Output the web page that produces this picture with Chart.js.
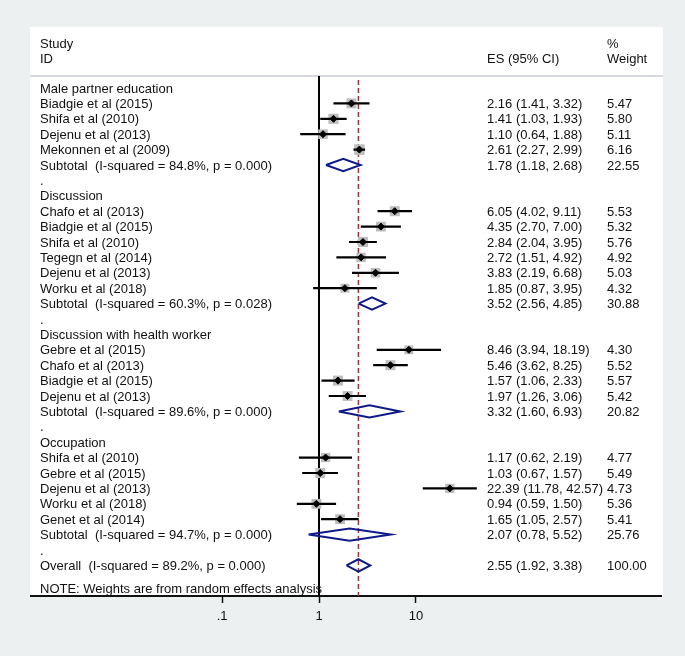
<!DOCTYPE html>
<html><head><meta charset="utf-8">
<script src="https://cdn.jsdelivr.net/npm/chart.js@4.4.1/dist/chart.umd.min.js"></script>
<style>html,body{margin:0;padding:0;background:#edf0f0}#wrap{width:685px;height:656px;position:relative}</style>
</head><body><div id="wrap"><canvas id="c"></canvas></div>
<script>
// ---------- data ----------
const groups = ['Male partner education','Discussion','Discussion with health worker','Occupation'];
const studyNames = ['Biadgie et al (2015)','Shifa et al (2010)','Dejenu et al (2013)','Mekonnen et al (2009)',
 'Chafo et al (2013)','Biadgie et al (2015)','Shifa et al (2010)','Tegegn et al (2014)','Dejenu et al (2013)','Worku et al (2018)',
 'Gebre et al (2015)','Chafo et al (2013)','Biadgie et al (2015)','Dejenu et al (2013)',
 'Shifa et al (2010)','Gebre et al (2015)','Dejenu et al (2013)','Worku et al (2018)','Genet et al (2014)'];
const studyGroup  = [0,0,0,0, 1,1,1,1,1,1, 2,2,2,2, 3,3,3,3,3];
const studyES     = [2.16,1.41,1.10,2.61, 6.05,4.35,2.84,2.72,3.83,1.85, 8.46,5.46,1.57,1.97, 1.17,1.03,22.39,0.94,1.65];
const studyLo     = [1.41,1.03,0.64,2.27, 4.02,2.70,2.04,1.51,2.19,0.87, 3.94,3.62,1.06,1.26, 0.62,0.67,11.78,0.59,1.05];
const studyHi     = [3.32,1.93,1.88,2.99, 9.11,7.00,3.95,4.92,6.68,3.95, 18.19,8.25,2.33,3.06, 2.19,1.57,42.57,1.50,2.57];
const studyWeight = [5.47,5.80,5.11,6.16, 5.53,5.32,5.76,4.92,5.03,4.32, 4.30,5.52,5.57,5.42, 4.77,5.49,4.73,5.36,5.41];
const subES     = [1.78,3.52,3.32,2.07];
const subLo     = [1.18,2.56,1.60,0.78];
const subHi     = [2.68,4.85,6.93,5.52];
const subWeight = [22.55,30.88,20.82,25.76];
const subI2     = [84.8,60.3,89.6,94.7];
const subP      = ['0.000','0.028','0.000','0.000'];
const overallES = 2.55, overallLo = 1.92, overallHi = 3.38, overallWeight = 100.00, overallI2 = 89.2, overallP = '0.000';
const xTicks = [0.1, 1, 10];
const xTickLabels = ['.1', '1', '10'];
const noteText = 'NOTE: Weights are from random effects analysis';

// ---------- build rows ----------
const rows = [];
let r = 0;
groups.forEach((g, gi) => {
  rows.push({row: r++, label: g, kind: 'head'});
  studyNames.forEach((n, k) => {
    if (studyGroup[k] === gi) rows.push({row: r++, label: n, kind: 'study', es: studyES[k], lo: studyLo[k], hi: studyHi[k], w: studyWeight[k]});
  });
  rows.push({row: r++, label: `Subtotal  (I-squared = ${subI2[gi].toFixed(1)}%, p = ${subP[gi]})`, kind: 'sub', es: subES[gi], lo: subLo[gi], hi: subHi[gi], w: subWeight[gi]});
  rows.push({row: r++, label: '.', kind: 'dot'});
});
rows.push({row: r++, label: `Overall  (I-squared = ${overallI2.toFixed(1)}%, p = ${overallP})`, kind: 'sub', es: overallES, lo: overallLo, hi: overallHi, w: overallWeight});
const noteRow = r + 0.5;

const Y_MIN = -3.961, Y_MAX = 32.987;
const studies = rows.filter(o => o.kind === 'study');
const subs = rows.filter(o => o.kind === 'sub');

const ciData = [];
studies.forEach(o => { ciData.push({x: o.lo, y: o.row}, {x: o.hi, y: o.row}, {x: null, y: null}); });
const diaH = 0.4;
const diaData = [];
subs.forEach(o => { diaData.push({x: o.lo, y: o.row}, {x: o.es, y: o.row - diaH}, {x: o.hi, y: o.row}, {x: o.es, y: o.row + diaH}, {x: o.lo, y: o.row}, {x: null, y: null}); });

const FONT = '"Liberation Sans", Arial, Helvetica, sans-serif';
Chart.defaults.font.family = FONT;

const panelPlugin = {
  id: 'panel',
  beforeDraw(chart) {
    const {ctx, chartArea: a} = chart;
    ctx.save();
    ctx.fillStyle = '#ffffff';
    ctx.fillRect(a.left - 1, a.top, a.right - a.left + 3, a.bottom - a.top);
    ctx.restore();
  },
  beforeDatasetsDraw(chart) {
    const {ctx, chartArea: a, scales: {y}} = chart;
    ctx.save();
    ctx.strokeStyle = '#c9cdd6';
    ctx.lineWidth = 1.5;
    const yy = y.getPixelForValue(-0.78);
    ctx.beginPath(); ctx.moveTo(a.left - 1, yy); ctx.lineTo(a.right + 2, yy); ctx.stroke();
    ctx.restore();
  },
  afterDatasetsDraw(chart) {
    const {ctx, scales: {y}} = chart;
    ctx.save();
    ctx.font = '13px ' + FONT;
    ctx.fillStyle = '#111';
    ctx.textBaseline = 'middle';
    ctx.textAlign = 'left';
    const c1 = 40, c2 = 487, c3 = 607;
    const py = v => y.getPixelForValue(v) + 1;
    ctx.fillText('Study', c1, py(-2.92));
    ctx.fillText('ID', c1, py(-1.95));
    ctx.fillText('ES (95% CI)', c2, py(-1.95));
    ctx.fillText('%', c3, py(-2.92));
    ctx.fillText('Weight', c3, py(-1.95));
    rows.forEach(o => {
      ctx.fillText(o.label, c1, py(o.row));
      if (o.kind === 'study' || o.kind === 'sub') {
        ctx.fillText(`${o.es.toFixed(2)} (${o.lo.toFixed(2)}, ${o.hi.toFixed(2)})`, c2, py(o.row));
        ctx.fillText(o.w.toFixed(2), c3, py(o.row));
      }
    });
    ctx.fillText(noteText, c1, py(noteRow));
    ctx.restore();
  }
};

new Chart(document.getElementById('c'), {
  type: 'scatter',
  data: {
    datasets: [
      {label: 'null', data: [{x: 1, y: -0.78}, {x: 1, y: Y_MAX}], showLine: true, borderColor: '#000', borderWidth: 2, pointRadius: 0, order: 6},
      {label: 'overall', data: [{x: overallES, y: -0.52}, {x: overallES, y: Y_MAX}], showLine: true, borderColor: '#a8323a', borderWidth: 1.5, borderDash: [5, 3], pointRadius: 0, order: 6},
      {label: 'boxes', data: studies.map(o => ({x: o.es, y: o.row})), pointStyle: 'rect',
        pointRadius: c => 3.0 * Math.sqrt(studies[c.dataIndex].w), backgroundColor: '#bdbdbd', borderColor: '#bdbdbd', borderWidth: 0, order: 5},
      {label: 'ci', data: ciData, showLine: true, spanGaps: false, borderColor: '#000', borderWidth: 2.2, pointRadius: 0, order: 3},
      {label: 'diamonds', data: diaData, showLine: true, spanGaps: false, borderColor: '#0f1a8a', borderWidth: 2, borderJoinStyle: 'miter', pointRadius: 0, order: 2},
      {label: 'points', data: studies.map(o => ({x: o.es, y: o.row})), pointStyle: 'rectRot', pointRadius: 3.5, backgroundColor: '#000', borderColor: '#000', borderWidth: 1, order: 1}
    ]
  },
  options: {
    responsive: true, maintainAspectRatio: false, animation: false,
    layout: {padding: {left: 31, right: 24, top: 27, bottom: 0}},
    plugins: {legend: {display: false}, tooltip: {enabled: false}},
    elements: {line: {tension: 0}},
    scales: {
      x: {
        type: 'logarithmic', position: 'bottom', min: 0.001066, max: 3383,
        afterBuildTicks: s => { s.ticks = xTicks.map(v => ({value: v})); },
        afterFit: s => { s.height = 60; },
        border: {display: true, color: '#111', width: 2},
        grid: {display: true, drawOnChartArea: false, drawTicks: true, tickLength: 7, tickWidth: 1.5, tickColor: '#111'},
        ticks: {callback: (v, i) => xTickLabels[i], font: {size: 13}, color: '#111', padding: 6, maxRotation: 0, autoSkip: false}
      },
      y: {type: 'linear', reverse: true, min: Y_MIN, max: Y_MAX, display: false}
    }
  },
  plugins: [panelPlugin]
});
</script>
</body></html>
